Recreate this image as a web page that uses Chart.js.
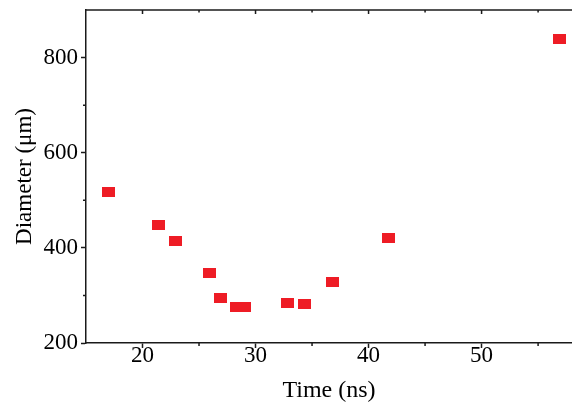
<!DOCTYPE html>
<html>
<head>
<meta charset="utf-8">
<script src="https://cdn.jsdelivr.net/npm/chart.js@4"></script>
<style>
  html, body { margin: 0; padding: 0; background: #fff; }
  #wrap { width: 572px; height: 405px; }
</style>
</head>
<body>
<div id="wrap"><canvas id="diamChart"></canvas></div>
<script>
// Data
const timeNs = [17, 21.4, 22.9, 25.9, 26.9, 28.3, 29.0, 32.8, 34.3, 36.8, 41.8, 56.9];
const diameterUm = [518, 448, 414, 347, 294, 275, 275, 285, 282, 328, 420, 839];
const xMajorTicks = [20, 30, 40, 50];
const xMinorTicks = [25, 35, 45, 55];
const yMajorTicks = [200, 400, 600, 800];
const yMinorTicks = [300, 500, 700];

const axisColor = '#1a1a1a';
const serif = "'Liberation Serif', 'DejaVu Serif', serif";

// red square marker, a little wider than tall
const marker = document.createElement('canvas');
marker.width = 13;
marker.height = 10;
const mctx = marker.getContext('2d');
mctx.fillStyle = '#ee1c25';
mctx.fillRect(0, 0, 13, 10);

// top frame line + small inward ticks, and short minor ticks outside
const frameTicks = {
    id: 'frameTicks',
    afterDraw(chart) {
        const { ctx, chartArea } = chart;
        const xs = chart.scales.x, ys = chart.scales.y;
        ctx.save();
        ctx.strokeStyle = axisColor;
        ctx.lineWidth = 1.5;
        ctx.beginPath();
        ctx.moveTo(chartArea.left, chartArea.top);
        ctx.lineTo(chartArea.right, chartArea.top);
        ctx.stroke();

        ctx.beginPath();
        xMajorTicks.forEach(v => {
            const px = xs.getPixelForValue(v);
            ctx.moveTo(px, chartArea.top);
            ctx.lineTo(px, chartArea.top + 4);
        });
        xMinorTicks.forEach(v => {
            const px = xs.getPixelForValue(v);
            ctx.moveTo(px, chartArea.top);
            ctx.lineTo(px, chartArea.top + 2.5);
            ctx.moveTo(px, chartArea.bottom);
            ctx.lineTo(px, chartArea.bottom + 3);
        });
        yMinorTicks.forEach(v => {
            const py = ys.getPixelForValue(v);
            ctx.moveTo(chartArea.left, py);
            ctx.lineTo(chartArea.left - 3, py);
        });
        ctx.stroke();
        ctx.restore();
    }
};

const ctx = document.getElementById('diamChart').getContext('2d');
const diamChart = new Chart(ctx, {
    type: 'scatter',
    data: {
        datasets: [{
            label: 'Diameter',
            data: timeNs.map((t, i) => ({ x: t, y: diameterUm[i] })),
            pointStyle: marker,
            pointRadius: 6,
            pointHoverRadius: 6
        }]
    },
    options: {
        responsive: true,
        maintainAspectRatio: false,
        animation: false,
        events: [],
        layout: { autoPadding: false, padding: { top: 10, right: 0, left: 0, bottom: 0 } },
        plugins: {
            legend: { display: false },
            tooltip: { enabled: false }
        },
        scales: {
            x: {
                type: 'linear',
                min: 15,
                max: 58,
                border: { display: true, color: axisColor, width: 1.5 },
                grid: {
                    drawOnChartArea: false,
                    drawTicks: true,
                    tickLength: 5,
                    tickWidth: 1.5,
                    tickColor: c => xMajorTicks.includes(c.tick && c.tick.value) ? axisColor : 'rgba(0,0,0,0)'
                },
                ticks: {
                    stepSize: 5,
                    autoSkip: false,
                    maxRotation: 0,
                    padding: -4,
                    color: '#000',
                    font: { family: serif, size: 23, lineHeight: 1 },
                    callback: v => xMajorTicks.includes(v) ? String(v) : ''
                },
                title: {
                    display: true,
                    text: 'Time (ns)',
                    color: '#000',
                    font: { family: serif, size: 24 },
                    padding: { top: 2, bottom: 0 }
                },
                afterFit: s => {
                    s.height = 62;
                    s.paddingLeft = 0;
                    s.paddingRight = 0;
                }
            },
            y: {
                type: 'linear',
                min: 200,
                max: 900,
                border: { display: true, color: axisColor, width: 1.5 },
                grid: {
                    drawOnChartArea: false,
                    drawTicks: true,
                    tickLength: 5,
                    tickWidth: 1.5,
                    tickColor: c => yMajorTicks.includes(c.tick && c.tick.value) ? axisColor : 'rgba(0,0,0,0)'
                },
                ticks: {
                    stepSize: 100,
                    autoSkip: false,
                    padding: 3,
                    color: '#000',
                    font: { family: serif, size: 23 },
                    callback: v => yMajorTicks.includes(v) ? String(v) : ''
                },
                title: {
                    display: true,
                    text: 'Diameter (μm)',
                    color: '#000',
                    font: { family: serif, size: 23 },
                    padding: { top: 11, bottom: 0 }
                },
                afterFit: s => {
                    s.width = 86;
                    s.paddingTop = 0;
                    s.paddingBottom = 0;
                }
            }
        }
    },
    plugins: [frameTicks]
});
</script>
</body>
</html>
